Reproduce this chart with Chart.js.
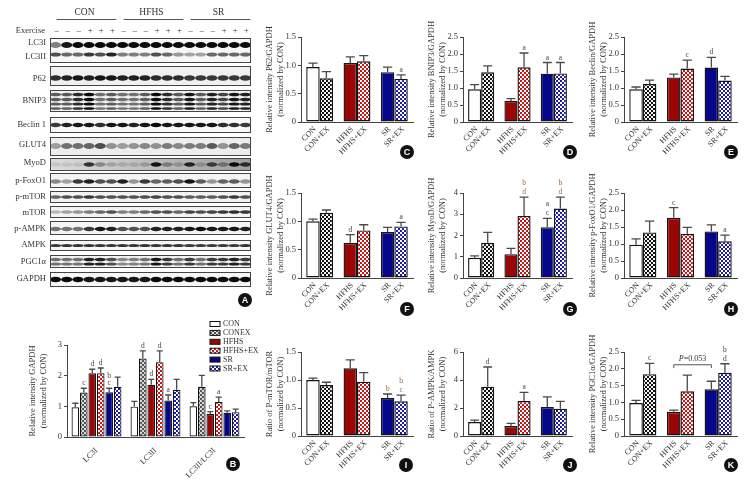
<!DOCTYPE html>
<html><head><meta charset="utf-8">
<script src="https://cdn.jsdelivr.net/npm/chart.js@4.4.1/dist/chart.umd.min.js"></script>
<style>
html,body{margin:0;padding:0;background:#fff;width:752px;height:484px;overflow:hidden;position:relative}
canvas{position:absolute}
.tag{position:absolute;width:14px;height:14px;border-radius:50%;background:#111;color:#fff;font:bold 9px 'Liberation Sans',Arial,sans-serif;text-align:center;line-height:14px}
</style></head><body>
<script>
// ---------------- DATA ----------------
const barLabels = ['CON','CON+EX','HFHS','HFHS+EX','SR','SR+EX'];
const groupNames = ['CON','HFHS','SR'];

// C  P62
const p62Mean = [0.97,0.77,1.04,1.07,0.88,0.76];
const p62Err  = [0.07,0.12,0.11,0.10,0.09,0.07];
const p62Sig  = ['','','','','','a'];
// D  BNIP3
const bnip3Mean = [0.96,1.46,0.62,1.61,1.42,1.43];
const bnip3Err  = [0.14,0.19,0.07,0.42,0.33,0.32];
const bnip3Sig  = ['','','','a','a','a'];
// E  Beclin
const beclinMean = [0.96,1.12,1.31,1.57,1.60,1.22];
const beclinErr  = [0.07,0.11,0.10,0.25,0.30,0.12];
const beclinSig  = ['','','','c','d',''];
// F  GLUT4
const glut4Mean = [1.00,1.15,0.62,0.84,0.81,0.91];
const glut4Err  = [0.04,0.05,0.145,0.10,0.085,0.07];
const glut4Sig  = ['','','d','','','a'];
// G  MyoD
const myodMean = [0.95,1.66,1.12,2.92,2.39,3.27];
const myodErr  = [0.09,0.49,0.27,0.89,0.42,0.54];
const myodSig  = ['','','','bd','ac','bd'];
// H  p-FoxO1
const foxoMean = [0.98,1.34,1.77,1.30,1.37,1.08];
const foxoErr  = [0.17,0.33,0.30,0.19,0.19,0.18];
const foxoSig  = ['','','c','','','a'];
// I  p-mTOR/mTOR
const mtorMean = [1.00,0.91,1.21,0.97,0.68,0.62];
const mtorErr  = [0.035,0.05,0.15,0.16,0.07,0.11];
const mtorSig  = ['','','','','b','bc'];
// J  p-AMPK/AMPK
const ampkMean = [1.00,3.52,0.71,2.50,2.07,1.95];
const ampkErr  = [0.14,1.41,0.19,0.62,0.72,0.53];
const ampkSig  = ['','d','','a','',''];
// K  PGC1a
const pgcMean = [0.98,1.84,0.72,1.33,1.39,1.88];
const pgcErr  = [0.08,0.32,0.05,0.48,0.24,0.27];
const pgcSig  = ['','c','','','','bd'];

// B  LC3
const bCats = ['LC3I','LC3II','LC3II/LC3I'];
const bNames = ['CON','CONEX','HFHS','HFHS+EX','SR','SR+EX'];
const bCon      = [0.97,0.99,1.00]; const bConErr    = [0.13,0.17,0.12]; const bConSig    = ['','',''];
const bConex    = [1.45,2.56,1.64]; const bConexErr  = [0.14,0.25,0.37]; const bConexSig  = ['c','d',''];
const bHfhs     = [2.08,1.70,0.75]; const bHfhsErr   = [0.13,0.18,0.08]; const bHfhsSig   = ['d','d','c'];
const bHfhsex   = [2.08,2.44,1.14]; const bHfhsexErr = [0.17,0.37,0.16]; const bHfhsexSig = ['d','d','a'];
const bSr       = [1.46,1.19,0.79]; const bSrErr     = [0.13,0.18,0.06]; const bSrSig     = ['bc','a',''];
const bSrex     = [1.64,1.54,0.81]; const bSrexErr   = [0.31,0.34,0.10]; const bSrexSig   = ['','',''];

// A  western blot lanes (relative band intensity per lane)
const laneSigns = ['–','–','–','+','+','+','–','–','–','+','+','+','–','–','–','+','+','+'];
const lc3iBand  = [0.5,0.95,1,1,1,1,1,1,1,1,1,1,1,1,1,1,1,1];
const lc3iiBand = [0.7,0.6,0.6,0.8,0.7,0.9,0.5,0.5,0.5,0.7,0.6,0.4,0.35,0.35,0.6,0.6,0.6,0.6];
const p62Band   = [0.85,0.9,0.95,0.9,0.95,0.95,0.9,0.9,0.9,0.85,0.85,0.85,0.8,0.8,0.8,0.8,0.8,0.8];
const bnip3Band = [0.65,0.65,0.85,1,0.55,0.65,0.55,0.55,0.65,1,0.85,0.65,0.95,0.65,0.9,0.75,0.95,0.9];
const beclinBand= [0.8,0.9,0.95,0.95,0.85,0.95,0.95,0.9,0.95,1,0.95,0.95,0.95,0.95,0.95,0.85,0.85,0.8];
const glut4Band = [0.35,0.55,0.55,0.6,0.7,0.4,0.35,0.4,0.45,0.4,0.5,0.45,0.5,0.5,0.65,0.4,0.6,0.5];
const myodBand  = [0.1,0.1,0.1,0.8,0.35,0.2,0.15,0.15,0.2,0.95,0.35,0.2,0.85,0.2,0.7,0.35,1,0.8];
const foxoBand  = [0.45,0.35,0.8,0.9,0.7,0.7,0.9,0.4,0.8,0.6,0.65,0.7,0.95,0.65,0.4,0.6,0.65,0.4];
const pmtorBand = [0.6,0.7,0.7,0.8,0.7,0.7,0.7,0.7,0.7,0.75,0.7,0.7,0.65,0.65,0.65,0.7,0.8,0.7];
const mtorBand  = [0.25,0.35,0.4,0.5,0.6,0.7,0.5,0.5,0.6,0.7,0.7,0.6,0.75,0.7,0.75,0.8,0.85,0.8];
const pampkBand = [0.55,0.55,0.55,0.8,0.95,0.9,0.7,0.7,0.7,0.9,0.9,0.9,0.95,1,0.95,0.95,0.95,0.9];
const ampkBand  = [0.8,0.82,0.82,0.82,0.82,0.82,0.82,0.82,0.82,0.82,0.82,0.82,0.8,0.8,0.8,0.8,0.8,0.82];
const pgcBand   = [0.55,0.55,0.55,0.9,0.9,0.7,0.45,0.5,0.55,0.95,0.8,0.55,0.8,0.55,0.8,0.8,0.9,0.8];
const gapdhBand = [1,1,1,0.95,0.95,0.95,0.95,0.95,0.95,1,1,1,1,1,1,1,1,1];

// ---------------- STYLE ----------------
const FONT = "'Liberation Serif','Times New Roman',serif";
Chart.defaults.font.family = FONT;
Chart.defaults.font.size = 8.5;
Chart.defaults.color = '#333';

function checker(c1, c2, s){
  const pc = document.createElement('canvas'); pc.width = pc.height = s*2;
  const g = pc.getContext('2d');
  g.fillStyle = c2; g.fillRect(0,0,s*2,s*2);
  g.fillStyle = c1; g.fillRect(0,0,s,s); g.fillRect(s,s,s,s);
  return g.createPattern(pc,'repeat');
}
const COL = {con:'#ffffff', hfhs:'#9a0606', sr:'#06068a'};
const PAT = {
  conex: checker('#111111','#f4f4f4',2),
  conexB: checker('#555555','#d8d8d8',2),
  hfhsex: checker('#c81414','#ffffff',2),
  srex: checker('#1c1ca8','#ffffff',2)
};

function addCanvas(left, top, w, h){
  const c = document.createElement('canvas');
  c.width = w; c.height = h;
  c.style.left = left+'px'; c.style.top = top+'px';
  c.style.width = w+'px'; c.style.height = h+'px';
  document.body.appendChild(c);
  return c;
}
function tag(letter, cx, cy){
  const d = document.createElement('div'); d.className='tag'; d.textContent = letter;
  d.style.left = (cx-7)+'px'; d.style.top = (cy-7)+'px';
  document.body.appendChild(d);
}

// ---------------- PLUGINS ----------------
const errPlugin = {
  id:'errs',
  afterDatasetsDraw(chart, args, opts){
    const ctx = chart.ctx, ys = chart.scales.y;
    chart.data.datasets.forEach((ds, di) => {
      chart.getDatasetMeta(di).data.forEach((bar, j) => {
        const v = ds.data[j], e = ds.err[j];
        const y0 = ys.getPixelForValue(v), y1 = ys.getPixelForValue(v+e);
        const half = bar.width*opts.cap;
        ctx.save();
        ctx.strokeStyle = '#4a4a4a'; ctx.lineWidth = 1.3;
        ctx.beginPath(); ctx.moveTo(bar.x, y0); ctx.lineTo(bar.x, y1);
        ctx.moveTo(bar.x-half, y1); ctx.lineTo(bar.x+half, y1); ctx.stroke();
        const s = ds.sig[j] || '';
        ctx.font = opts.sigSize+'px '+FONT; ctx.textAlign='center'; ctx.textBaseline='alphabetic';
        ctx.fillStyle = (opts.warm||[]).includes(ds.idx[j]) ? '#9b6a3c' : '#444';
        for (let k=0;k<s.length;k++){
          ctx.fillText(s[s.length-1-k], bar.x, y1 - 3 - k*opts.sigStep);
        }
        ctx.restore();
      });
    });
  }
};
const xLabelPlugin = {
  id:'xlab',
  afterDraw(chart, args, opts){
    const ctx = chart.ctx, bottom = chart.chartArea.bottom;
    ctx.save();
    ctx.font = '8px '+FONT; ctx.fillStyle = '#333'; ctx.textAlign='right'; ctx.textBaseline='middle';
    chart.data.datasets.forEach((ds, di) => {
      chart.getDatasetMeta(di).data.forEach((bar, j) => {
        ctx.save(); ctx.translate(bar.x+2, bottom+6); ctx.rotate(-Math.PI/4);
        ctx.fillText(ds.names[j], 0, 0); ctx.restore();
      });
    });
    ctx.restore();
  }
};
const bracketPlugin = {
  id:'bracket',
  afterDatasetsDraw(chart, args, opts){
    if (!opts || !opts.show) return;
    const ctx = chart.ctx, ys = chart.scales.y;
    const a = chart.getDatasetMeta(opts.from[0]).data[opts.from[1]];
    const b = chart.getDatasetMeta(opts.to[0]).data[opts.to[1]];
    const yb = ys.getPixelForValue(opts.y), yl = ys.getPixelForValue(opts.y - opts.leg);
    ctx.save();
    ctx.strokeStyle = '#555'; ctx.lineWidth = 1;
    ctx.beginPath(); ctx.moveTo(a.x, yl); ctx.lineTo(a.x, yb); ctx.lineTo(b.x, yb); ctx.lineTo(b.x, yl); ctx.stroke();
    ctx.fillStyle = '#333'; ctx.textBaseline = 'alphabetic'; ctx.textAlign = 'left';
    const fi = 'italic 8px '+FONT, fn = '8px '+FONT;
    ctx.font = fi; const w1 = ctx.measureText('P').width;
    ctx.font = fn; const w2 = ctx.measureText(opts.text).width;
    const x0 = (a.x+b.x)/2 - (w1+w2)/2;
    ctx.font = fi; ctx.fillText('P', x0, yb-4);
    ctx.font = fn; ctx.fillText(opts.text, x0+w1, yb-4);
    ctx.restore();
  }
};
const legendB = {
  id:'legB',
  afterDraw(chart, args, opts){
    const ctx = chart.ctx;
    ctx.save(); ctx.font = '8px '+FONT; ctx.textBaseline='middle'; ctx.textAlign='left';
    chart.data.datasets.forEach((ds, i) => {
      const y = opts.y + i*opts.step;
      ctx.fillStyle = ds.backgroundColor; ctx.fillRect(opts.x, y-2.5, 10, 5);
      ctx.strokeStyle = '#111'; ctx.lineWidth = 1; ctx.strokeRect(opts.x, y-2.5, 10, 5);
      ctx.fillStyle = '#333'; ctx.fillText(ds.label, opts.x+13, y);
    });
    ctx.restore();
  }
};

// ---------------- BAR PANELS C-K ----------------
function makePanel(p){
  const cv = addCanvas(p.left, p.top, p.w, p.h);
  const yW = p.areaLeft - p.left;
  const xH = p.top + p.h - p.areaBottom;
  const pick = (arr, d) => [arr[d], arr[d+2], arr[d+4]];
  const idx = [0,1,2,3,4,5];
  const common = {borderColor:'#151515', borderWidth:1.4, borderSkipped:false, categoryPercentage:0.72, barPercentage:1};
  new Chart(cv, {
    type:'bar',
    data:{labels: groupNames, datasets:[
      Object.assign({data:pick(p.mean,0), err:pick(p.err,0), sig:pick(p.sig,0), names:pick(barLabels,0), idx:pick(idx,0),
        backgroundColor:[COL.con, COL.hfhs, COL.sr]}, common),
      Object.assign({data:pick(p.mean,1), err:pick(p.err,1), sig:pick(p.sig,1), names:pick(barLabels,1), idx:pick(idx,1),
        backgroundColor:[PAT.conex, PAT.hfhsex, PAT.srex]}, common)
    ]},
    options:{
      responsive:false, animation:false, devicePixelRatio:1,
      layout:{padding:{top:p.areaTop-p.top, right:p.left+p.w-p.areaRight, left:0, bottom:0}},
      scales:{
        x:{type:'category', ticks:{display:false}, grid:{display:false},
           border:{display:true, color:'#444', width:1}, afterFit(s){ s.height = xH; }},
        y:{min:0, max:p.max, ticks:{stepSize:p.step, padding:2, color:'#333', font:{size:8.5},
             callback:(v)=> v===0 ? '0' : (p.dec ? v.toFixed(1) : String(v))},
           grid:{display:true, drawOnChartArea:false, tickLength:3, color:'#444'},
           border:{display:true, color:'#444', width:1},
           title:{display:true, text:[p.title,'(normalized by CON)'], color:'#333', font:{size:8.5}, padding:{top:3, bottom:0}},
           afterFit(s){ s.width = yW; }}
      },
      plugins:{legend:{display:false}, tooltip:{enabled:false},
        errs:{cap:0.34, sigSize:7.5, sigStep:9, warm:p.warm||[]},
        bracket:p.bracket||{show:false}}
    },
    plugins:[errPlugin, xLabelPlugin, bracketPlugin]
  });
}

const row1 = {top:0, h:160, areaTop:37, areaBottom:122};
const row2 = {top:160, h:158, areaTop:193, areaBottom:278};
const row3 = {top:318, h:166, areaTop:352, areaBottom:436};
const col1 = {left:262, w:160, areaLeft:301, areaRight:413};
const col2 = {left:424, w:160, areaLeft:463, areaRight:572};
const col3 = {left:585, w:160, areaLeft:624, areaRight:737};

makePanel(Object.assign({}, row1, col1, {max:1.5, step:0.5, dec:true, title:'Relative intensity P62/GAPDH', mean:p62Mean, err:p62Err, sig:p62Sig}));
makePanel(Object.assign({}, row1, col2, {max:2.5, step:0.5, dec:true, title:'Relative intensity BNIP3/GAPDH', mean:bnip3Mean, err:bnip3Err, sig:bnip3Sig}));
makePanel(Object.assign({}, row1, col3, {max:2.5, step:0.5, dec:true, title:'Relative intensity Beclin/GAPDH', mean:beclinMean, err:beclinErr, sig:beclinSig}));
makePanel(Object.assign({}, row2, col1, {max:1.5, step:0.5, dec:true, title:'Relative intensity GLUT4/GAPDH', mean:glut4Mean, err:glut4Err, sig:glut4Sig}));
makePanel(Object.assign({}, row2, col2, {max:4, step:1, dec:false, title:'Relative intensity MyoD/GAPDH', mean:myodMean, err:myodErr, sig:myodSig, warm:[3,5]}));
makePanel(Object.assign({}, row2, col3, {max:2.5, step:0.5, dec:true, title:'Relative intensity p-FoxO1/GAPDH', mean:foxoMean, err:foxoErr, sig:foxoSig}));
makePanel(Object.assign({}, row3, col1, {max:1.5, step:0.5, dec:true, title:'Ratio of P-mTOR/mTOR', mean:mtorMean, err:mtorErr, sig:mtorSig, warm:[4,5]}));
makePanel(Object.assign({}, row3, col2, {max:6, step:2, dec:false, title:'Ratio of P-AMPK/AMPK', mean:ampkMean, err:ampkErr, sig:ampkSig}));
makePanel(Object.assign({}, row3, col3, {max:2.5, step:0.5, dec:true, title:'Relative intensity PGC1α/GAPDH', mean:pgcMean, err:pgcErr, sig:pgcSig,
  bracket:{show:true, from:[0,1], to:[0,2], y:2.12, leg:0.1, text:'=0.053'}}));

// ---------------- PANEL B ----------------
(function(){
  const left=0, top=310, w=264, h=174, areaLeft=67, areaTop=345, areaRight=244, areaBottom=437;
  const cv = addCanvas(left, top, w, h);
  const common = {borderColor:'#151515', borderWidth:1.2, borderSkipped:false, categoryPercentage:0.86, barPercentage:0.9};
  const mk = (label, data, err, sig, fill) => Object.assign({label, data, err, sig, idx:[0,0,0], backgroundColor:fill}, common);
  new Chart(cv, {
    type:'bar',
    data:{labels:bCats, datasets:[
      mk(bNames[0], bCon, bConErr, bConSig, COL.con),
      mk(bNames[1], bConex, bConexErr, bConexSig, PAT.conexB),
      mk(bNames[2], bHfhs, bHfhsErr, bHfhsSig, COL.hfhs),
      mk(bNames[3], bHfhsex, bHfhsexErr, bHfhsexSig, PAT.hfhsex),
      mk(bNames[4], bSr, bSrErr, bSrSig, COL.sr),
      mk(bNames[5], bSrex, bSrexErr, bSrexSig, PAT.srex)
    ]},
    options:{
      responsive:false, animation:false, devicePixelRatio:1,
      layout:{padding:{top:areaTop-top, right:left+w-areaRight, left:0, bottom:0}},
      scales:{
        x:{type:'category', ticks:{minRotation:45, maxRotation:45, padding:1, color:'#333', font:{size:8}},
           grid:{display:false}, border:{display:true, color:'#444', width:1},
           afterFit(s){ s.height = top+h-areaBottom; }},
        y:{min:0, max:3, ticks:{stepSize:1, padding:2, color:'#333', font:{size:8.5}},
           grid:{display:true, drawOnChartArea:false, tickLength:3, color:'#444'},
           border:{display:true, color:'#444', width:1},
           title:{display:true, text:['Relative intensity GAPDH','(normalized by CON)'], color:'#333', font:{size:8.5}, padding:{top:28, bottom:0}},
           afterFit(s){ s.width = areaLeft-left; }}
      },
      plugins:{legend:{display:false}, tooltip:{enabled:false},
        errs:{cap:0.4, sigSize:7.5, sigStep:7.5, warm:[]},
        legB:{x:210, y:14, step:8.9}}
    },
    plugins:[errPlugin, legendB]
  });
})();

// ---------------- PANEL A (blot) ----------------
const blotRows = [
  {labels:[['LC3I',43],['LC3II',57]], box:[38,63], bg:'#f7f7f7', bands:[[lc3iBand,45,6],[lc3iiBand,54.5,4]]},
  {labels:[['P62',79]], box:[66,86], bg:'#f0f0f0', bands:[[p62Band,78,5.5]]},
  {labels:[['BNIP3',101]], box:[90,112], bg:'#efefef', bands:[[bnip3Band,94.5,3.5],[bnip3Band,99.5,3.5],[bnip3Band,104,3],[bnip3Band,108.5,2.5]]},
  {labels:[['Beclin 1',125]], box:[117,133], bg:'#f8f8f8', bands:[[beclinBand,125,4.5]]},
  {labels:[['GLUT4',145]], box:[137,156], bg:'#ededed', bands:[[glut4Band,146,6]]},
  {labels:[['MyoD',163]], box:[158,171], bg:'grad', bands:[[myodBand,164.5,4.5]]},
  {labels:[['p-FoxO1',181]], box:[173,188], bg:'#f3f3f3', bands:[[foxoBand,181.5,4.5]]},
  {labels:[['p-mTOR',197]], box:[191,203], bg:'#f3f3f3', bands:[[pmtorBand,197,3.5]]},
  {labels:[['mTOR',213]], box:[206,218], bg:'#f3f3f3', bands:[[mtorBand,212,3.5]]},
  {labels:[['p-AMPK',229]], box:[221,235], bg:'#f5f5f5', bands:[[pampkBand,229,4.5]]},
  {labels:[['AMPK',245]], box:[240,251], bg:'#f7f7f7', bands:[[ampkBand,245.5,3]]},
  {labels:[['PGC1α',262]], box:[255,268], bg:'#f2f2f2', bands:[[pgcBand,259.5,3.5],[pgcBand,264,3]]},
  {labels:[['GAPDH',279]], box:[272,287], bg:'#f7f7f7', bands:[[gapdhBand,279.5,5.5]]}
];
const blotGroups = [['CON',0,5],['HFHS',6,11],['SR',12,17]];
const blotPlugin = {
  id:'blot',
  afterDraw(chart){
    const ctx = chart.ctx, xs = chart.scales.x, ys = chart.scales.y;
    const lw = xs.getPixelForValue(1) - xs.getPixelForValue(0);
    const L = chart.chartArea.left, R = chart.chartArea.right;
    ctx.save();
    ctx.fillStyle = '#333'; ctx.textAlign='center'; ctx.textBaseline='middle'; ctx.font = '9.5px '+FONT;
    blotGroups.forEach(([name,a,b]) => {
      const xa = xs.getPixelForValue(a), xb = xs.getPixelForValue(b);
      ctx.fillText(name, (xa+xb)/2+1, ys.getPixelForValue(12));
      ctx.strokeStyle='#555'; ctx.lineWidth=1;
      ctx.beginPath(); ctx.moveTo(xa+1, ys.getPixelForValue(19.5)); ctx.lineTo(xb+5, ys.getPixelForValue(19.5)); ctx.stroke();
    });
    ctx.font = '8.5px '+FONT;
    laneSigns.forEach((s,i) => ctx.fillText(s, xs.getPixelForValue(i)+1, ys.getPixelForValue(31)));
    ctx.textAlign='right';
    ctx.fillText('Exercise', 45, ys.getPixelForValue(31));
    blotRows.forEach(r => {
      const t = ys.getPixelForValue(r.box[0]), bt = ys.getPixelForValue(r.box[1]);
      if (r.bg === 'grad'){
        const g = ctx.createLinearGradient(L,0,R,0); g.addColorStop(0,'#dcdcdc'); g.addColorStop(1,'#9c9c9c');
        ctx.fillStyle = g;
      } else ctx.fillStyle = r.bg;
      ctx.fillRect(L, t, R-L, bt-t);
      ctx.save();
      ctx.beginPath(); ctx.rect(L, t, R-L, bt-t); ctx.clip();
      ctx.filter = 'blur(0.7px)';
      r.bands.forEach(([arr, y, hh]) => {
        arr.forEach((v,i) => {
          ctx.fillStyle = 'rgba(10,10,10,'+Math.min(1, v)+')';
          const cx = xs.getPixelForValue(i), yy = ys.getPixelForValue(y);
          ctx.beginPath();
          ctx.ellipse(cx, yy, lw*0.5, hh/2, 0, 0, Math.PI*2);
          ctx.fill();
        });
      });
      ctx.restore();
      ctx.strokeStyle = '#444'; ctx.lineWidth = 1;
      ctx.strokeRect(L+0.5, t+0.5, R-L-1, bt-t-1);
      ctx.fillStyle = '#333'; ctx.font = '8.5px '+FONT; ctx.textAlign='right'; ctx.textBaseline='middle';
      r.labels.forEach(([txt, y]) => ctx.fillText(txt, 46, ys.getPixelForValue(y)));
    });
    ctx.restore();
  }
};
(function(){
  const cv = addCanvas(0, 0, 256, 300);
  new Chart(cv, {
    type:'bar',
    data:{labels:laneSigns, datasets:[{data:laneSigns.map(()=>null)}]},
    options:{responsive:false, animation:false, devicePixelRatio:1,
      layout:{padding:{left:50, right:5, top:0, bottom:0}},
      scales:{x:{display:false, offset:true}, y:{display:false, min:0, max:300, reverse:true}},
      plugins:{legend:{display:false}, tooltip:{enabled:false}}},
    plugins:[blotPlugin]
  });
})();

// panel tags
[['A',245,300],['B',233,464],['C',407,152],['D',570,152],['E',731,152],['F',407,309],['G',570,309],['H',731,309],['I',406,465],['J',570,465],['K',731,465]]
  .forEach(([l,x,y]) => tag(l,x,y));
</script>
</body></html>
